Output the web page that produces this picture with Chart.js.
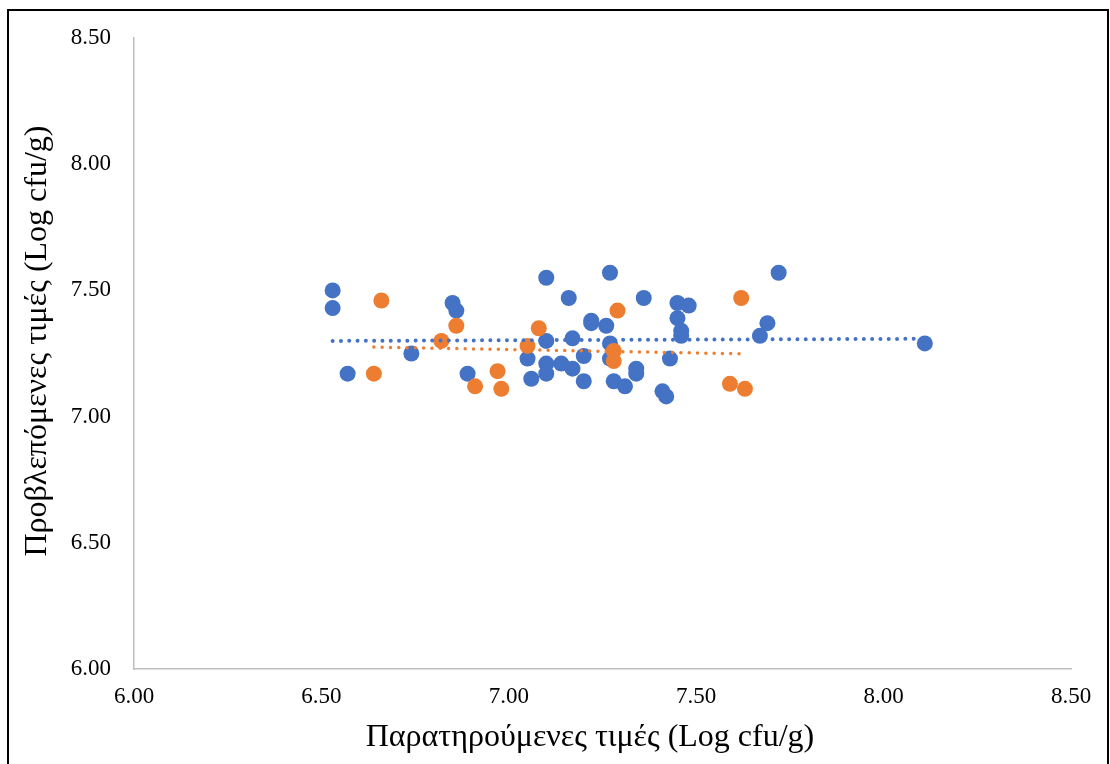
<!DOCTYPE html>
<html>
<head>
<meta charset="utf-8">
<script src="https://cdn.jsdelivr.net/npm/chart.js@4/dist/chart.umd.min.js"></script>
<style>
  html, body { margin: 0; padding: 0; background: #fff; overflow: hidden; }
  #wrap { position: relative; width: 1110px; height: 764px; }
  #frame { position: absolute; left: 7px; top: 9px; width: 1098px; height: 800px;
           border: 2.5px solid #000; pointer-events: none; }
  canvas { position: absolute; left: 0; top: 0; }
</style>
</head>
<body>
<div id="wrap">
  <canvas id="chart" width="1110" height="764"></canvas>
  <div id="frame"></div>
</div>
<script>
// observed vs predicted (Log cfu/g)
const blueX = [6.53, 6.53, 6.57, 6.74, 6.85, 6.86, 6.89, 7.05, 7.06, 7.10, 7.10, 7.10, 7.10,
               7.14, 7.17, 7.16, 7.17, 7.20, 7.20, 7.22, 7.22, 7.27, 7.26, 7.27, 7.27, 7.28,
               7.31, 7.34, 7.34, 7.36, 7.43, 7.41, 7.42, 7.45, 7.48, 7.45, 7.46, 7.46, 7.67,
               7.69, 7.72, 8.11];
const blueY = [7.50, 7.43, 7.17, 7.25, 7.45, 7.42, 7.17, 7.23, 7.15, 7.55, 7.30, 7.21, 7.17,
               7.21, 7.19, 7.47, 7.31, 7.24, 7.14, 7.38, 7.37, 7.57, 7.36, 7.29, 7.23, 7.14,
               7.12, 7.19, 7.17, 7.47, 7.23, 7.10, 7.08, 7.45, 7.44, 7.39, 7.34, 7.32, 7.32,
               7.37, 7.57, 7.29];
const orangeX = [6.66, 6.64, 6.82, 6.86, 6.91, 6.97, 6.98, 7.08, 7.05, 7.29, 7.28, 7.28,
                 7.62, 7.59, 7.63];
const orangeY = [7.46, 7.17, 7.30, 7.36, 7.12, 7.18, 7.11, 7.35, 7.28, 7.42, 7.26, 7.22,
                 7.47, 7.13, 7.11];
const axisMin = 6.0, axisMax = 8.5, axisStep = 0.5;
const xTitle = 'Παρατηρούμενες τιμές (Log cfu/g)';
const yTitle = 'Προβλεπόμενες τιμές (Log cfu/g)';

const BLUE = '#4472C4', ORANGE = '#ED7D31';
const SERIF = "'Liberation Serif', 'Times New Roman', serif";

const toPoints = (xs, ys) => xs.map((x, i) => ({ x, y: ys[i] }));

// linear least-squares trendline spanning the series' x range
function trend(xs, ys) {
  const n = xs.length;
  const mx = xs.reduce((a, b) => a + b, 0) / n;
  const my = ys.reduce((a, b) => a + b, 0) / n;
  let sxy = 0, sxx = 0;
  xs.forEach((x, i) => { sxy += (x - mx) * (ys[i] - my); sxx += (x - mx) * (x - mx); });
  const k = sxy / sxx, b = my - k * mx;
  const x0 = Math.min(...xs), x1 = Math.max(...xs);
  return [{ x: x0, y: k * x0 + b }, { x: x1, y: k * x1 + b }];
}

// axis titles are centred on the whole chart box, not on the plot area
const axisTitles = {
  id: 'axisTitles',
  afterDraw(chart) {
    const ctx = chart.ctx;
    ctx.save();
    ctx.fillStyle = '#000';
    ctx.font = '32px ' + SERIF;
    ctx.textAlign = 'center';
    ctx.textBaseline = 'middle';
    ctx.fillText(xTitle, 590, 738);
    ctx.translate(38, 341);
    ctx.rotate(-Math.PI / 2);
    ctx.fillText(yTitle, 0, 0);
    ctx.restore();
  }
};

const tickFont = { family: SERIF, size: 23 };

new Chart(document.getElementById('chart').getContext('2d'), {
  type: 'scatter',
  data: {
    datasets: [
      { type: 'line', data: trend(blueX, blueY), borderColor: BLUE, borderWidth: 4,
        borderDash: [0, 8.3], borderCapStyle: 'round', pointRadius: 0, fill: false },
      { type: 'line', data: trend(orangeX, orangeY), borderColor: ORANGE, borderWidth: 3.5,
        borderDash: [0, 8.3], borderCapStyle: 'round', pointRadius: 0, fill: false },
      { data: toPoints(orangeX, orangeY), backgroundColor: ORANGE, borderWidth: 0, pointRadius: 8 },
      { data: toPoints(blueX, blueY), backgroundColor: BLUE, borderWidth: 0, pointRadius: 8 }
    ]
  },
  options: {
    responsive: false, animation: false,
    layout: { padding: { left: 0, top: 38, right: 39, bottom: 0 } },
    plugins: { legend: { display: false }, tooltip: { enabled: false } },
    scales: {
      x: {
        type: 'linear', min: axisMin, max: axisMax,
        afterFit: s => { s.height = 95; },
        grid: { drawOnChartArea: false, drawTicks: false },
        border: { color: '#BFBFBF', width: 1.5 },
        ticks: { stepSize: axisStep, padding: 14, color: '#000', font: tickFont,
                 callback: v => v.toFixed(2) }
      },
      y: {
        type: 'linear', min: axisMin, max: axisMax,
        afterFit: s => { s.width = 134; },
        grid: { drawOnChartArea: false, drawTicks: false },
        border: { color: '#BFBFBF', width: 1.5 },
        ticks: { stepSize: axisStep, padding: 23, color: '#000', font: tickFont,
                 callback: v => v.toFixed(2) }
      }
    }
  },
  plugins: [axisTitles]
});
</script>
</body>
</html>
